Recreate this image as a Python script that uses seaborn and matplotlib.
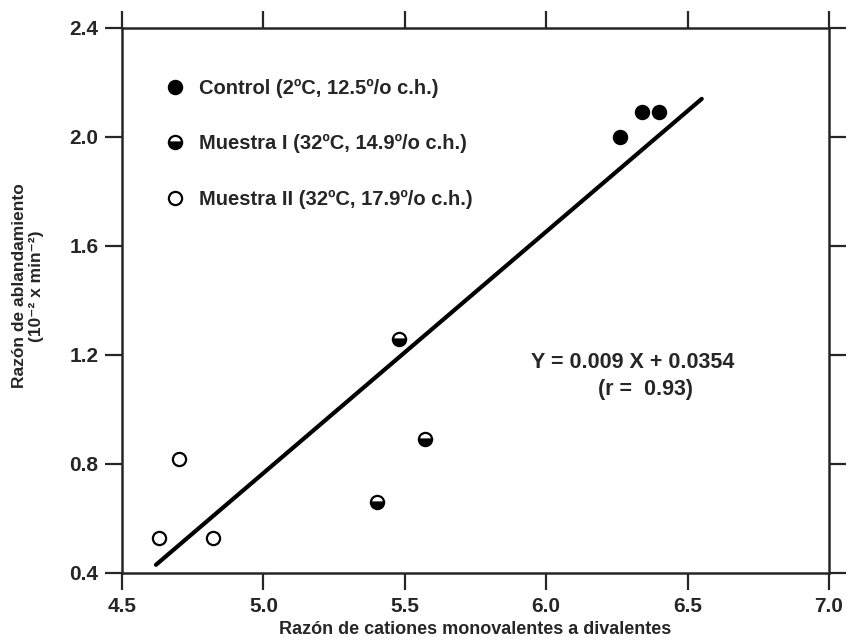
import matplotlib
matplotlib.use('Agg')
import matplotlib.pyplot as plt
import pandas as pd
import seaborn as sns

# Data
control_x = [6.26, 6.34, 6.40]
control_y = [2.00, 2.09, 2.09]
muestra1_x = [5.40, 5.48, 5.57]
muestra1_y = [0.66, 1.26, 0.89]
muestra2_x = [4.63, 4.70, 4.82]
muestra2_y = [0.53, 0.82, 0.53]
fit_x = [4.62, 6.55]
fit_y = [0.43, 2.14]

labels = ['Control (2ºC, 12.5º/o c.h.)',
          'Muestra I (32ºC, 14.9º/o c.h.)',
          'Muestra II (32ºC, 17.9º/o c.h.)']
x_ticks = [4.5, 5.0, 5.5, 6.0, 6.5, 7.0]
y_ticks = [0.4, 0.8, 1.2, 1.6, 2.0, 2.4]

sns.set_style('ticks')
plt.rcParams['font.family'] = ['Liberation Sans', 'DejaVu Sans']
plt.rcParams['font.weight'] = 'bold'

fig = plt.figure(figsize=(8.48, 6.42), dpi=100)
ax = fig.add_axes([0.1439, 0.1075, 0.8337, 0.8489])

df_c = pd.DataFrame({'x': control_x, 'y': control_y})
df_1 = pd.DataFrame({'x': muestra1_x, 'y': muestra1_y})
df_2 = pd.DataFrame({'x': muestra2_x, 'y': muestra2_y})
df_fit = pd.DataFrame({'x': fit_x, 'y': fit_y})

# regression line
sns.lineplot(data=df_fit, x='x', y='y', ax=ax, color='black', linewidth=3,
             solid_capstyle='round', sort=False, estimator=None)

ms = 9.5
sns.lineplot(data=df_c, x='x', y='y', ax=ax, linestyle='', marker='o',
             markersize=ms, color='black', markeredgecolor='black',
             markeredgewidth=1.6, label=labels[0], sort=False, estimator=None)
sns.lineplot(data=df_1, x='x', y='y', ax=ax, linestyle='', marker='o',
             markersize=ms, color='black', markerfacecolor='black',
             markerfacecoloralt='white', fillstyle='bottom',
             markeredgecolor='black', markeredgewidth=1.6,
             label=labels[1], sort=False, estimator=None)
sns.lineplot(data=df_2, x='x', y='y', ax=ax, linestyle='', marker='o',
             markersize=ms, color='black', markerfacecolor='white',
             markeredgecolor='black', markeredgewidth=1.6,
             label=labels[2], sort=False, estimator=None)

ax.legend(loc='upper left', bbox_to_anchor=(0.035, 0.94), frameon=False,
          labelspacing=1.8, handletextpad=0.7, handlelength=1.0,
          prop={'size': 14.5, 'weight': 'bold'})

ax.text(0.723, 0.387, 'Y = 0.009 X + 0.0354', transform=ax.transAxes,
        ha='center', va='center', fontsize=15.5, fontweight='bold')
ax.text(0.741, 0.337, '(r =  0.93)', transform=ax.transAxes,
        ha='center', va='center', fontsize=15.5, fontweight='bold')

ax.set_xlim(4.5, 7.0)
ax.set_ylim(0.4, 2.4)
ax.set_xticks(x_ticks)
ax.set_yticks(y_ticks)
ax.set_xticklabels([f'{t:.1f}' for t in x_ticks])
ax.set_yticklabels([f'{t:.1f}' for t in y_ticks])
ax.tick_params(direction='out', length=12, width=1.6, labelsize=15,
               top=True, right=True, pad=5)
for lab in ax.get_xticklabels() + ax.get_yticklabels():
    lab.set_fontweight('bold')
for s in ax.spines.values():
    s.set_linewidth(1.8)
    s.set_visible(True)

ax.set_xlabel('Razón de cationes monovalentes a divalentes', fontsize=13,
              fontweight='bold', labelpad=4)
ax.set_ylabel('Razón de ablandamiento\n(10⁻² x min⁻²)', fontsize=12.5,
              fontweight='bold')
ax.yaxis.set_label_coords(-0.11, 0.527)

fig.savefig('out.png', dpi=100)
